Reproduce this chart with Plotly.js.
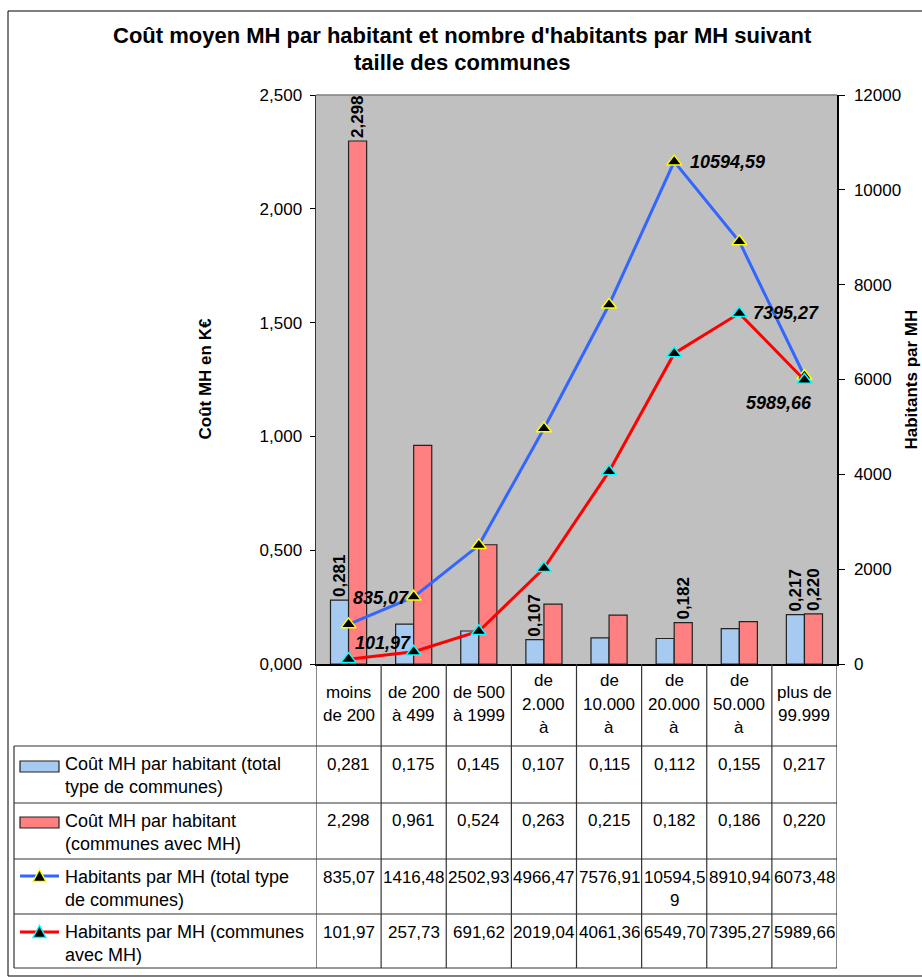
<!DOCTYPE html>
<html><head><meta charset="utf-8">
<script src="https://cdn.plot.ly/plotly-3.0.1.min.js"></script>
<style>body{margin:0;padding:0;background:#fff}#chart{width:922px;height:977px}</style>
</head><body><div id="chart"></div>
<script>
// ---------- DATA ----------
const categories = ["moins\nde 200","de 200\nà 499","de 500\nà 1999","de\n2.000\nà","de\n10.000\nà","de\n20.000\nà","de\n50.000\nà","plus de\n99.999"];
const coutTotal   = [0.281,0.175,0.145,0.107,0.115,0.112,0.155,0.217];
const coutAvecMH  = [2.298,0.961,0.524,0.263,0.215,0.182,0.186,0.220];
const habTotal    = [835.07,1416.48,2502.93,4966.47,7576.91,10594.59,8910.94,6073.48];
const habAvecMH   = [101.97,257.73,691.62,2019.04,4061.36,6549.70,7395.27,5989.66];
const seriesNames = ["Coût MH par habitant (total\ntype de communes)","Coût MH par habitant\n(communes avec MH)","Habitants par MH (total type\nde communes)","Habitants par MH (communes\navec MH)"];
const leftTicks  = [0,0.5,1,1.5,2,2.5];
const rightTicks = [0,2000,4000,6000,8000,10000,12000];
// which points carry data labels
const lblCoutTotal  = [true,false,false,true,false,false,false,true];
const lblCoutAvec   = [true,false,false,false,false,true,false,true];
const lblHabTotal   = [true,false,false,false,false,true,false,false];
const lblHabAvec    = [true,false,false,false,false,false,true,true];

// ---------- helpers ----------
const W=922,H=977, L=316, R=837, T=95, B=664;
const px=x=>(x-L)/(R-L), py=y=>(B-y)/(B-T);
const f3=v=>v.toFixed(3).replace('.',',');
const f2=v=>v.toFixed(2).replace('.',',');
const FONT="Liberation Sans, Arial, sans-serif";
const idx=categories.map((c,i)=>i);
const colBlue="#A6CAF0", colRed="#FF8080", lineBlue="#3366FF", lineRed="#FF0000";
const gridC="#333333";

const traces=[
 {type:'bar',x:idx,y:coutTotal,yaxis:'y',marker:{color:colBlue,line:{color:'#222',width:1.2}},
  text:coutTotal.map((v,i)=>lblCoutTotal[i]?f3(v):''),textposition:'outside',textangle:-90,constraintext:'none',cliponaxis:false,
  textfont:{family:FONT,size:17,color:'#000',weight:'bold'},hoverinfo:'none'},
 {type:'bar',x:idx,y:coutAvecMH,yaxis:'y',marker:{color:colRed,line:{color:'#222',width:1.2}},
  text:coutAvecMH.map((v,i)=>lblCoutAvec[i]?f3(v):''),textposition:'outside',textangle:-90,constraintext:'none',cliponaxis:false,
  textfont:{family:FONT,size:17,color:'#000',weight:'bold'},hoverinfo:'none'},
 {type:'scatter',mode:'lines+markers',x:idx,y:habTotal,yaxis:'y2',line:{color:lineBlue,width:3},
  marker:{symbol:'triangle-up',size:13,color:'#000',line:{color:'#FFFF00',width:1.5}},cliponaxis:false,hoverinfo:'none'},
 {type:'scatter',mode:'lines+markers',x:idx,y:habAvecMH,yaxis:'y2',line:{color:lineRed,width:3},
  marker:{symbol:'triangle-up',size:13,color:'#000',line:{color:'#00FFFF',width:1.5}},cliponaxis:false,hoverinfo:'none'}
];

const shapes=[], ann=[];
// outer frame
shapes.push({type:'rect',xref:'paper',yref:'paper',x0:px(8),x1:px(940),y0:py(11),y1:py(976),line:{color:'#000',width:1}});
// plot top border
shapes.push({type:'line',xref:'paper',yref:'paper',x0:0,x1:1,y0:1,y1:1,line:{color:'#808080',width:1.5}});
// table horizontal lines
const rowY=[746,803,859,914,968];
rowY.forEach(y=>shapes.push({type:'line',xref:'paper',yref:'paper',x0:px(14),x1:1,y0:py(y),y1:py(y),line:{color:gridC,width:1.2}}));
// table verticals
for(let i=0;i<=categories.length;i++){
  shapes.push({type:'line',xref:'x',yref:'paper',x0:i-0.5,x1:i-0.5,y0:0,y1:py(968),line:{color:gridC,width:1.2}});
}
shapes.push({type:'line',xref:'paper',yref:'paper',x0:px(14),x1:px(14),y0:py(746),y1:py(968),line:{color:gridC,width:1.2}});

// category header labels
const LS=23;
categories.forEach((c,i)=>{
  const lines=c.split('\n'); const cy=704;
  lines.forEach((t,k)=>{
    const y=cy+(k-(lines.length-1)/2)*LS;
    ann.push({xref:'x',yref:'paper',x:i,y:py(y),text:t,showarrow:false,xanchor:'center',yanchor:'middle',font:{family:FONT,size:17,color:'#000'}});
  });
});
// table rows
const rowVals=[coutTotal.map(f3),coutAvecMH.map(f3),habTotal.map(f2),habAvecMH.map(f2)];
rowVals.forEach((vals,r)=>{
  const y0=rowY[r]+18;
  vals.forEach((s,i)=>{
    const parts= s.length>7 ? [s.slice(0,7),s.slice(7)] : [s];
    parts.forEach((t,k)=>ann.push({xref:'x',yref:'paper',x:i,y:py(y0+k*LS),text:t,showarrow:false,xanchor:'center',yanchor:'middle',font:{family:FONT,size:17,color:'#000'}}));
  });
  // legend label
  seriesNames[r].split('\n').forEach((t,k)=>ann.push({xref:'paper',yref:'paper',x:px(63),y:py(y0+k*LS),text:t,showarrow:false,xanchor:'left',yanchor:'middle',font:{family:FONT,size:18,color:'#000'}}));
});
// legend keys
shapes.push({type:'rect',xref:'paper',yref:'paper',x0:px(20),x1:px(59),y0:py(761),y1:py(772),fillcolor:colBlue,line:{color:'#222',width:1.2}});
shapes.push({type:'rect',xref:'paper',yref:'paper',x0:px(20),x1:px(59),y0:py(817),y1:py(828),fillcolor:colRed,line:{color:'#222',width:1.2}});
[[876,lineBlue,'#FFFF00'],[932,lineRed,'#00FFFF']].forEach(([y,lc,mc])=>{
  shapes.push({type:'line',xref:'paper',yref:'paper',x0:px(20),x1:px(59),y0:py(y),y1:py(y),line:{color:lc,width:3}});
  const cx=39.5;
  shapes.push({type:'path',xref:'paper',yref:'paper',path:`M ${px(cx-6.5)} ${py(y+5.5)} L ${px(cx+6.5)} ${py(y+5.5)} L ${px(cx)} ${py(y-6.5)} Z`,fillcolor:'#000',line:{color:mc,width:1.5}});
});

// line data labels
const lblFont={family:FONT,size:18,color:'#000',weight:'bold',style:'italic'};
const habOffsets={T:[[32,26],null,null,null,null,[53,0],null,null],A:[[34,16],null,null,null,null,null,[47,0],[-25,-23]]};
habTotal.forEach((v,i)=>{ if(lblHabTotal[i]) ann.push({xref:'x',yref:'y2',x:i,y:v,text:f2(v),showarrow:false,xanchor:'center',yanchor:'middle',xshift:habOffsets.T[i][0],yshift:habOffsets.T[i][1],font:lblFont});});
habAvecMH.forEach((v,i)=>{ if(lblHabAvec[i]) ann.push({xref:'x',yref:'y2',x:i,y:v,text:f2(v),showarrow:false,xanchor:'center',yanchor:'middle',xshift:habOffsets.A[i][0],yshift:habOffsets.A[i][1],font:lblFont});});

// title & axis titles
const tFont={family:FONT,size:22,color:'#000',weight:'bold'};
ann.push({xref:'paper',yref:'paper',x:px(462),y:py(35),xanchor:'center',yanchor:'middle',text:"Coût moyen MH par habitant et nombre d'habitants par MH suivant",showarrow:false,font:tFont});
ann.push({xref:'paper',yref:'paper',x:px(462),y:py(63),xanchor:'center',yanchor:'middle',text:"taille des communes",showarrow:false,font:tFont});
ann.push({xref:'paper',yref:'paper',x:px(205),y:0.5,xanchor:'center',yanchor:'middle',text:"Coût MH en K€",textangle:-90,showarrow:false,font:{family:FONT,size:17,color:'#000',weight:'bold'}});
ann.push({xref:'paper',yref:'paper',x:px(911),y:0.5,xanchor:'center',yanchor:'middle',text:"Habitants par MH",textangle:-90,showarrow:false,font:{family:FONT,size:17,color:'#000',weight:'bold'}});

const layout={
  width:W,height:H,margin:{l:L,r:W-R,t:T,b:H-B,autoexpand:false},
  paper_bgcolor:'#fff',plot_bgcolor:'#C0C0C0',showlegend:false,
  barmode:'group',bargap:0.445,bargroupgap:0,
  font:{family:FONT,size:17,color:'#000'},
  xaxis:{type:'linear',range:[-0.5,7.5],showticklabels:false,ticks:'',showgrid:false,zeroline:false,showline:true,linecolor:'#000',linewidth:1.5,fixedrange:true},
  yaxis:{range:[0,2.5],tickvals:leftTicks,ticktext:leftTicks.map(f3),ticks:'outside',ticklen:5,tickcolor:'#000',showgrid:false,zeroline:false,showline:true,linecolor:'#333',linewidth:1.5,ticklabelstandoff:4,tickfont:{family:FONT,size:17}},
  yaxis2:{range:[0,12000],overlaying:'y',side:'right',tickvals:rightTicks,ticktext:rightTicks.map(String),ticks:'outside',ticklen:6,tickcolor:'#000',showgrid:false,zeroline:false,showline:true,linecolor:'#000',linewidth:1.5,ticklabelstandoff:6,tickfont:{family:FONT,size:17}},
  shapes:shapes,annotations:ann
};
Plotly.newPlot('chart',traces,layout,{staticPlot:true});
</script></body></html>
